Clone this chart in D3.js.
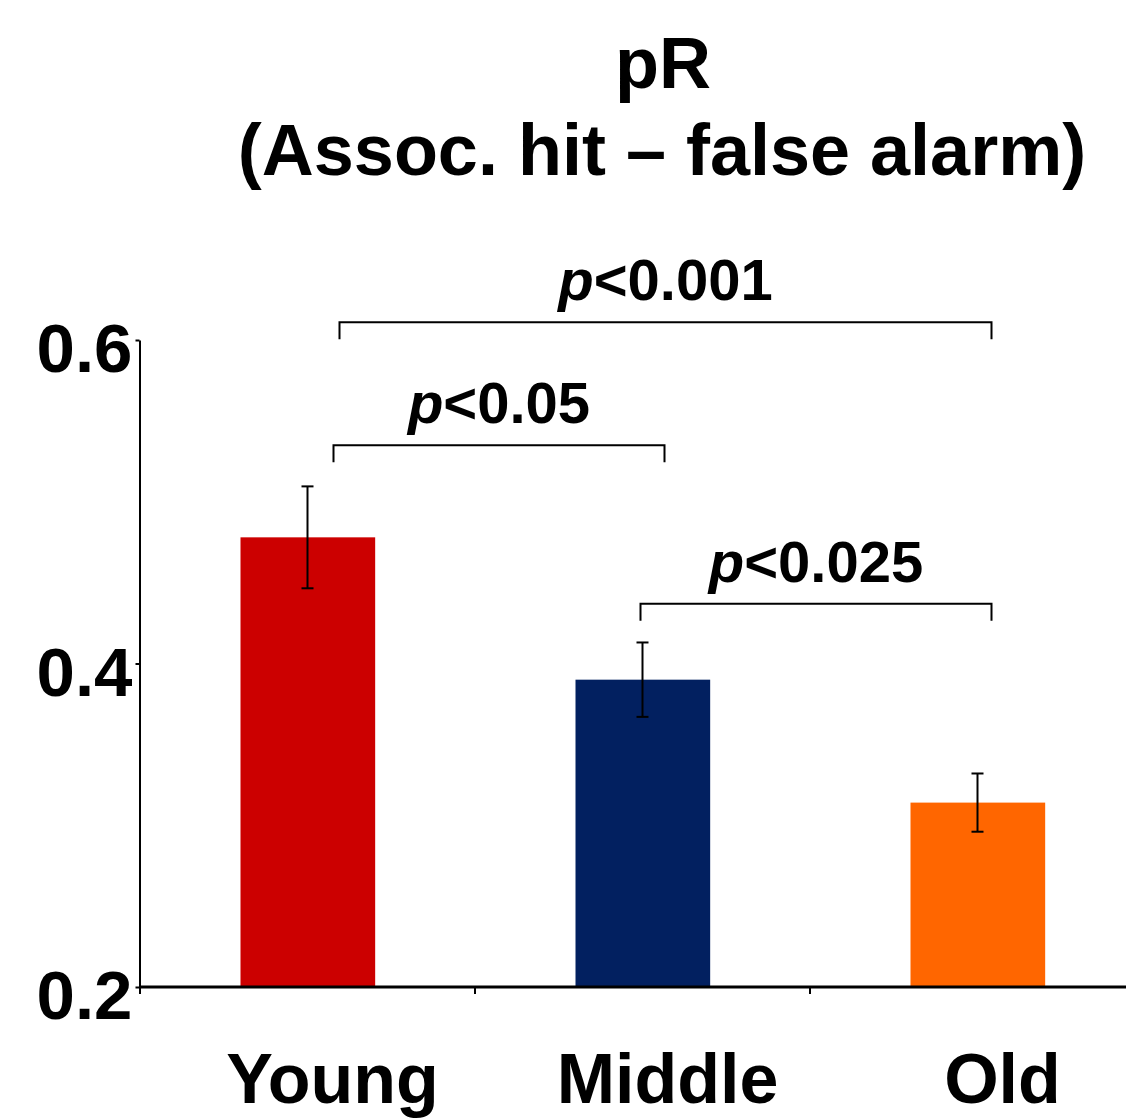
<!DOCTYPE html>
<html>
<head>
<meta charset="utf-8">
<script src="https://cdn.jsdelivr.net/npm/d3@7"></script>
<style>
  body { margin: 0; background: white; }
  text { font-family: "Liberation Sans", Arial, sans-serif; font-weight: bold; fill: black; }
</style>
</head>
<body>
<div id="chart"></div>
<script>
// Data
const groups = ["Young", "Middle", "Old"];
const pR = [0.478, 0.390, 0.314];
const sem = [0.0315, 0.023, 0.018];
const barColors = ["#CC0000", "#022060", "#FF6600"];
const yTicks = [0.2, 0.4, 0.6];

// significance brackets
const bracketFrom = ["Young", "Young", "Middle"];
const bracketTo = ["Old", "Middle", "Old"];
const bracketLevel = [0.611, 0.535, 0.437];
const bracketText = ["<0.001", "<0.05", "<0.025"];

const w = 1126;
const h = 1120;
const margin = {top: 340, left: 140, bottom: 133};

const svg = d3.select("#chart")
  .append("svg")
  .attr("width", w)
  .attr("height", h)
  .style("background-color", "white");

// scales
const xScale = d3.scaleBand()
  .domain(groups)
  .range([margin.left, margin.left + 1005])
  .padding(0);

const yScale = d3.scaleLinear()
  .domain([0.2, 0.6])
  .range([h - margin.bottom, margin.top]);

const bw = xScale.bandwidth();
const center = (g) => xScale(g) + bw / 2;

// Title
svg.append("text")
  .attr("x", 663)
  .attr("y", 88)
  .attr("text-anchor", "middle")
  .style("font-size", "72px")
  .text("pR");
svg.append("text")
  .attr("x", 662)
  .attr("y", 175)
  .attr("text-anchor", "middle")
  .style("font-size", "72px")
  .text("(Assoc. hit \u2013 false alarm)");

// Bars
svg.selectAll(".bar")
  .data(groups)
  .enter()
  .append("rect")
  .attr("class", "bar")
  .attr("x", (d) => xScale(d) + bw * 0.3)
  .attr("y", (d, i) => yScale(pR[i]))
  .attr("width", bw * 0.402)
  .attr("height", (d, i) => yScale(0.2) - yScale(pR[i]))
  .attr("fill", (d, i) => barColors[i]);

// Error bars
const errG = svg.append("g")
  .attr("stroke", "black")
  .attr("stroke-width", 2);
groups.forEach(function (g, i) {
  const cx = center(g);
  const top = yScale(pR[i] + sem[i]);
  const bot = yScale(pR[i] - sem[i]);
  errG.append("line").attr("x1", cx).attr("x2", cx).attr("y1", top).attr("y2", bot);
  errG.append("line").attr("x1", cx - 6).attr("x2", cx + 6).attr("y1", top).attr("y2", top);
  errG.append("line").attr("x1", cx - 6).attr("x2", cx + 6).attr("y1", bot).attr("y2", bot);
});

// Y axis
const yAxis = d3.axisLeft(yScale)
  .tickValues(yTicks)
  .tickSize(4)
  .tickSizeOuter(0)
  .tickPadding(3)
  .tickFormat(d3.format(".1f"));

const yG = svg.append("g")
  .attr("transform", "translate(" + (margin.left - 0.5) + ",0)")
  .call(yAxis);
yG.select(".domain").attr("stroke-width", 2);
yG.selectAll(".tick line").attr("stroke-width", 2);
yG.selectAll("text")
  .attr("dy", "0.46em")
  .style("font-size", "69px")
  .style("font-family", "'Liberation Sans', Arial, sans-serif")
  .style("font-weight", "bold");

// X axis (ticks at band edges)
const xG = svg.append("g");
xG.append("line")
  .attr("x1", xScale.range()[0] - 1)
  .attr("x2", xScale.range()[1])
  .attr("y1", yScale(0.2))
  .attr("y2", yScale(0.2))
  .attr("stroke", "black")
  .attr("stroke-width", 3);
xG.selectAll(".xtick")
  .data(groups)
  .enter()
  .append("line")
  .attr("x1", (d) => xScale(d))
  .attr("x2", (d) => xScale(d))
  .attr("y1", yScale(0.2))
  .attr("y2", yScale(0.2) + 7)
  .attr("stroke", "black")
  .attr("stroke-width", 2);
xG.selectAll(".xlabel")
  .data(groups)
  .enter()
  .append("text")
  .attr("x", (d) => center(d) + 25)
  .attr("y", yScale(0.2) + 116)
  .attr("text-anchor", "middle")
  .style("font-size", "70px")
  .text((d) => d);

// Significance brackets
const bracketDx = [[32, 14], [26, 22], [-2, 14]];
const drop = 17;
const brG = svg.append("g");
bracketText.forEach(function (t, i) {
  const x1 = center(bracketFrom[i]) + bracketDx[i][0];
  const x2 = center(bracketTo[i]) + bracketDx[i][1];
  const y = yScale(bracketLevel[i]);
  brG.append("path")
    .attr("d", "M" + x1 + "," + (y + drop) + "V" + y + "H" + x2 + "V" + (y + drop))
    .attr("fill", "none")
    .attr("stroke", "black")
    .attr("stroke-width", 2);
  const label = brG.append("text")
    .attr("x", (x1 + x2) / 2)
    .attr("y", y - 22)
    .attr("text-anchor", "middle")
    .style("font-size", "58px");
  label.append("tspan").style("font-style", "italic").text("p");
  label.append("tspan").text(t);
});
</script>
</body>
</html>
